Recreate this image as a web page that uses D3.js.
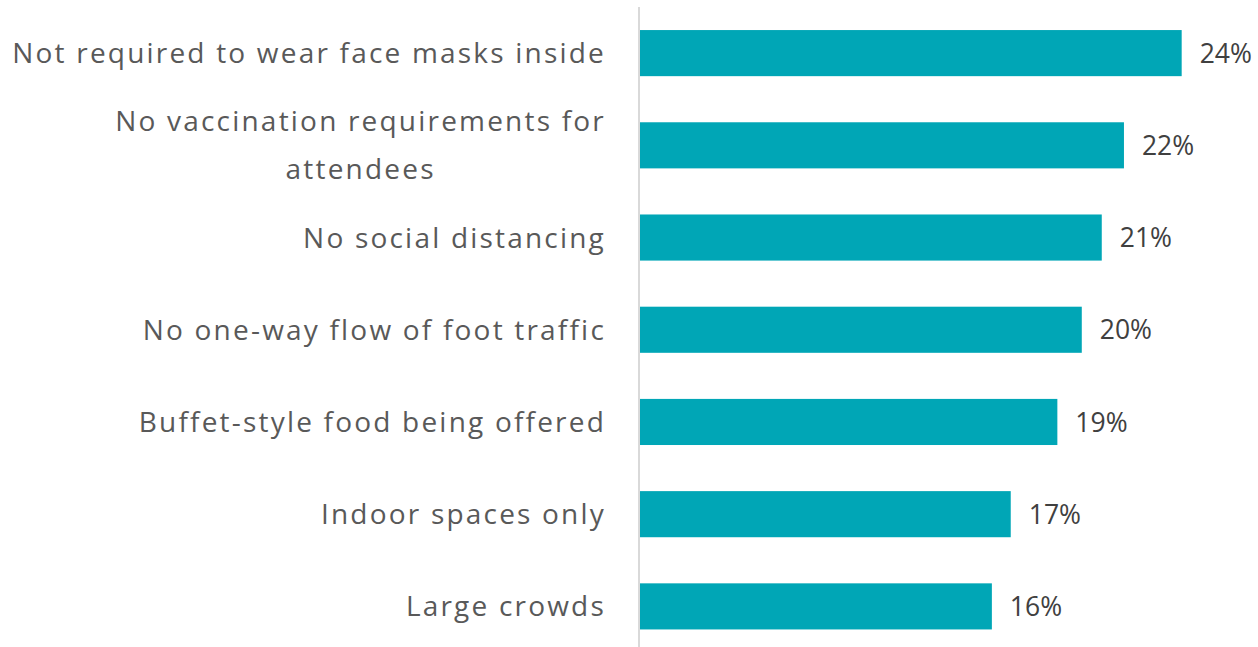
<!DOCTYPE html>
<html>
<head>
<meta charset="utf-8">
<script src="https://cdn.jsdelivr.net/npm/d3@7"></script>
<style>
  body { margin: 0; background: #fff; }
  svg { display: block; }
</style>
</head>
<body>
<div id="chart"></div>
<script>
const categories = [
    'Not required to wear face masks inside',
    'No vaccination requirements for|attendees',
    'No social distancing',
    'No one-way flow of foot traffic',
    'Buffet-style food being offered',
    'Indoor spaces only',
    'Large crowds'
];
const values = [24.4, 21.8, 20.8, 19.9, 18.8, 16.7, 15.85];
const valueLabels = ['24%', '22%', '21%', '20%', '19%', '17%', '16%'];

const width = 1258;
const height = 647;
const font = '"Open Sans", sans-serif';

const svg = d3.select('#chart')
    .append('svg')
    .attr('width', width)
    .attr('height', height);

const x = d3.scaleLinear()
    .domain([0, 25])
    .range([640, 1195]);

const y = d3.scaleBand()
    .domain(categories)
    .range([7, 652.5])
    .paddingInner(0.5)
    .paddingOuter(0.25);

svg.selectAll('rect')
    .data(categories)
    .enter()
    .append('rect')
        .attr('x', x(0))
        .attr('y', d => y(d))
        .attr('width', (d, i) => x(values[i]) - x(0))
        .attr('height', y.bandwidth())
        .attr('fill', '#00A6B6');

// vertical axis line
svg.append('line')
    .attr('x1', 639).attr('x2', 639)
    .attr('y1', 7).attr('y2', height)
    .attr('stroke', '#d9d9d9')
    .attr('stroke-width', 2);

// category labels, multi-line ones centred on each other
const labelRight = 606;
svg.selectAll('g.cat')
    .data(categories)
    .enter()
    .append('g')
        .attr('class', 'cat')
    .each(function(d) {
        const g = d3.select(this);
        const lines = d.split('|');
        const cy = y(d) + y.bandwidth() / 2;
        const lh = 48;
        const texts = lines.map((t, k) => g.append('text')
            .attr('text-anchor', 'middle')
            .attr('y', cy + (k - (lines.length - 1) / 2) * lh)
            .attr('dy', '0.36em')
            .style('font-family', font)
            .style('font-size', '28px')
            .style('letter-spacing', '2.2px')
            .attr('fill', '#595959')
            .text(t));
        const widths = texts.map(t => t.node().getComputedTextLength());
        const maxW = d3.max(widths);
        texts.forEach(t => t.attr('x', labelRight - maxW / 2));
    });

// value labels
svg.selectAll('text.val')
    .data(categories)
    .enter()
    .append('text')
        .attr('class', 'val')
        .attr('x', (d, i) => x(values[i]) + 18)
        .attr('y', d => y(d) + y.bandwidth() / 2)
        .attr('dy', '0.36em')
        .style('font-family', font)
        .style('font-size', '26.5px')
        .attr('fill', '#404040')
        .text((d, i) => valueLabels[i]);
</script>
</body>
</html>
